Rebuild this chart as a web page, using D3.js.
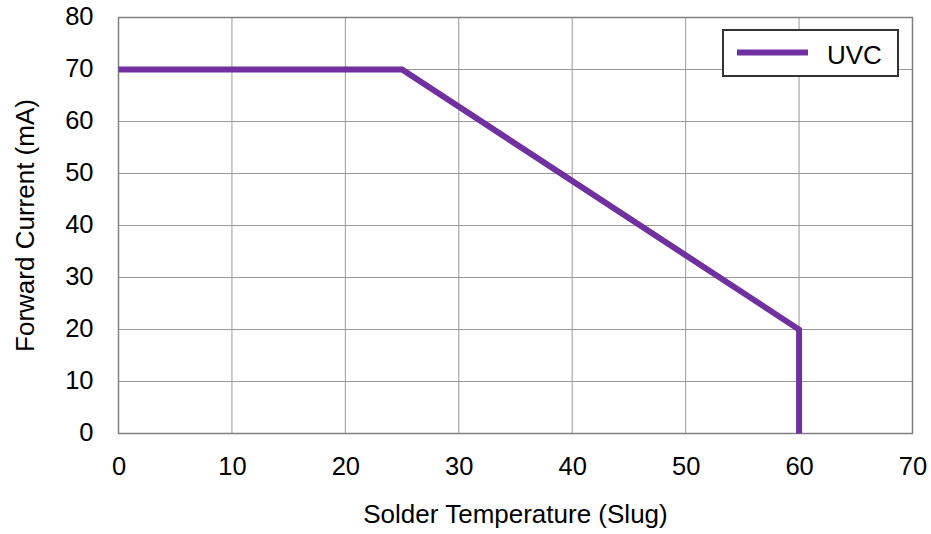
<!DOCTYPE html>
<html>
<head>
<meta charset="utf-8">
<script src="https://cdn.jsdelivr.net/npm/d3@7"></script>
<style>
  body { margin: 0; background: #fff; }
  text { font-family: "Liberation Sans", Arial, sans-serif; fill: #000; }
</style>
</head>
<body>
<div id="chart"></div>
<script>
"use strict";

const seriesName = "UVC";
const temps = [0, 25, 60, 60];
const currents = [70, 70, 20, 0];
const xTicks = [0, 10, 20, 30, 40, 50, 60, 70];
const yTicks = [0, 10, 20, 30, 40, 50, 60, 70, 80];

const width = 931, height = 534;
const margin = {top: 17.5, right: 18.5, bottom: 100.5, left: 118.5};
const w = width - margin.left - margin.right;
const h = height - margin.top - margin.bottom;
const tickFont = "25.5px";
const titleFont = "26px";

const x = d3.scaleLinear().domain([0, 70]).range([0, w]);
const y = d3.scaleLinear().domain([0, 80]).range([h, 0]);

const svg = d3.select("#chart").append("svg")
    .attr("width", width)
    .attr("height", height);

const g = svg.append("g")
    .attr("transform", `translate(${margin.left},${margin.top})`);

// grid
g.append("g").selectAll("line").data(xTicks).enter().append("line")
    .attr("x1", d => x(d)).attr("x2", d => x(d))
    .attr("y1", 0).attr("y2", h)
    .attr("stroke", "#999").attr("stroke-width", 1);
g.append("g").selectAll("line").data(yTicks).enter().append("line")
    .attr("y1", d => y(d)).attr("y2", d => y(d))
    .attr("x1", 0).attr("x2", w)
    .attr("stroke", "#999").attr("stroke-width", 1);

g.append("rect")
    .attr("width", w).attr("height", h)
    .attr("fill", "none").attr("stroke", "#808080").attr("stroke-width", 1.5);

// axes labels
const xAxis = g.append("g")
    .attr("transform", `translate(0,${h})`)
    .call(d3.axisBottom(x).tickValues(xTicks).tickSize(0).tickPadding(23));
xAxis.select(".domain").remove();
xAxis.selectAll("text")
    .attr("dy", "0.71em")
    .style("font-size", tickFont)
    .style("font-family", "Liberation Sans, Arial, sans-serif");

const yAxis = g.append("g")
    .call(d3.axisLeft(y).tickValues(yTicks).tickSize(0).tickPadding(25));
yAxis.select(".domain").remove();
yAxis.selectAll("text")
    .attr("dy", "0.28em")
    .style("font-size", tickFont)
    .style("font-family", "Liberation Sans, Arial, sans-serif");

// series
const pts = temps.map((t, i) => [t, currents[i]]);
g.append("path")
    .datum(pts)
    .attr("fill", "none")
    .attr("stroke", "#7030A0")
    .attr("stroke-width", 6)
    .attr("stroke-linejoin", "miter")
    .attr("d", d3.line().x(d => x(d[0])).y(d => y(d[1])));

// titles
svg.append("text")
    .attr("x", margin.left + w / 2)
    .attr("y", 522.5)
    .attr("text-anchor", "middle")
    .style("font-size", titleFont)
    .text("Solder Temperature (Slug)");

svg.append("text")
    .attr("transform", `translate(34,${margin.top + h / 2}) rotate(-90)`)
    .attr("text-anchor", "middle")
    .style("font-size", titleFont)
    .text("Forward Current (mA)");

// legend
const lg = svg.append("g").attr("transform", "translate(723,30)");
lg.append("rect")
    .attr("width", 175).attr("height", 46)
    .attr("fill", "#fff").attr("stroke", "#333").attr("stroke-width", 2);
lg.append("line")
    .attr("x1", 14).attr("x2", 85).attr("y1", 22.5).attr("y2", 22.5)
    .attr("stroke", "#7030A0").attr("stroke-width", 6);
lg.append("text")
    .attr("x", 104).attr("y", 34)
    .style("font-size", titleFont)
    .text(seriesName);
</script>
</body>
</html>
